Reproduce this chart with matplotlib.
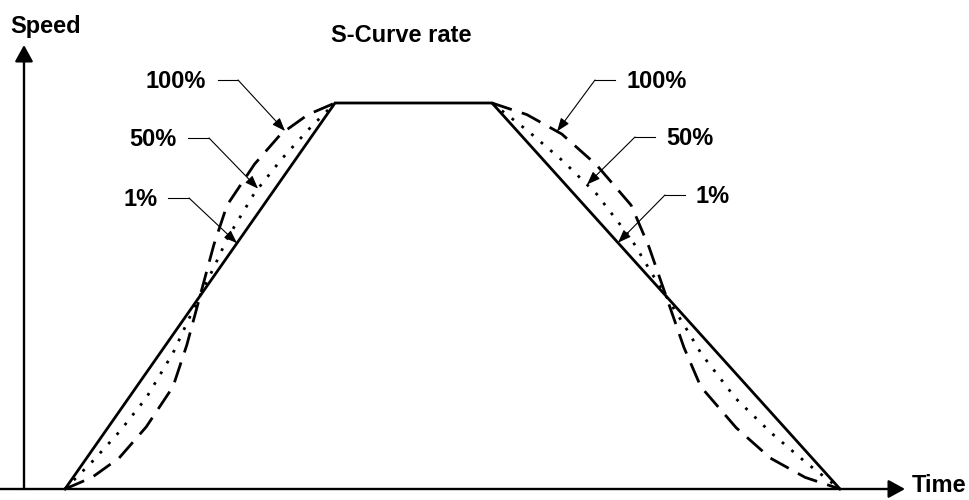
import numpy as np
import matplotlib
matplotlib.use('Agg')
import matplotlib.pyplot as plt

plt.rcParams['font.family'] = ['Liberation Sans', 'DejaVu Sans']

# ---- data (time / speed in drawing units) ----
profile_time = [65, 335, 492, 840]        # start, end of accel, start of decel, end
profile_speed = [0, 386, 386, 0]

# S-curve shapes: fraction of ramp time -> fraction of speed change
shape_u = [0, 0.1, 0.2, 0.3, 0.4, 0.45, 0.5, 0.55, 0.6, 0.7, 0.8, 0.9, 1.0]
shape_100 = [0, 0.03, 0.08, 0.16, 0.265, 0.37, 0.5, 0.63, 0.735, 0.84, 0.92, 0.97, 1.0]
shape_50 = [0, 0.07, 0.147, 0.235, 0.352, 0.428, 0.5, 0.572, 0.648, 0.765, 0.853, 0.93, 1.0]
shape_1 = [0, 0.1, 0.2, 0.3, 0.4, 0.45, 0.5, 0.55, 0.6, 0.7, 0.8, 0.9, 1.0]

labels = ['100%', '50%', '1%']
left_tip_u = [0.815, 0.715, 0.637]
right_tip_u = [0.187, 0.273, 0.362]

# ---- figure ----
fig = plt.figure(figsize=(9.7, 5.0), dpi=100)
ax = fig.add_axes([0, 0, 1, 1])
ax.set_xlim(0, 970)
ax.set_ylim(-11, 489)
ax.axis('off')

t0, t1, t2, t3 = profile_time
vmax = profile_speed[1]
ud = np.linspace(0, 1, 400)


def accel(shape, u):
    s = np.interp(u, shape_u, shape)
    return t0 + u * (t1 - t0), s * vmax


def decel(shape, u):
    s = np.interp(u, shape_u, shape)
    return t2 + u * (t3 - t2), (1 - s) * vmax


LW = 2.0
# trapezoid (1%)
ax.plot(profile_time, profile_speed, color='black', lw=LW, solid_joinstyle='miter', zorder=3)
# 100% dashed
for f in (accel, decel):
    x, y = f(shape_100, ud)
    ax.plot(x, y, color='black', lw=LW, linestyle=(0, (7.5, 3.8)), zorder=3)
# 50% dotted
for f in (accel, decel):
    x, y = f(shape_50, ud)
    ax.plot(x, y, color='black', lw=2.0, linestyle=(0, (1, 3.5)), zorder=3)

# axes with arrowheads
axis_kw = dict(arrowstyle='-|>,head_length=1.0,head_width=0.55', color='black',
               lw=1.7, mutation_scale=10, shrinkA=0, shrinkB=0)
ax.annotate('', xy=(905, 0), xytext=(0, 0), arrowprops=axis_kw)
ax.annotate('', xy=(24, 489 - 45), xytext=(24, 0), arrowprops=axis_kw)

FS = 17
ax.text(10, 489 - 33, 'Speed', fontsize=FS, fontweight='bold', ha='left', va='baseline')
ax.text(912, 489 - 492, 'Time', fontsize=FS, fontweight='bold', ha='left', va='baseline')
ax.text(401, 489 - 42, 'S-Curve rate', fontsize=FS, fontweight='bold', ha='center', va='baseline')

shapes = [shape_100, shape_50, shape_1]
# left-side labels: text right edge, label centre y (drawing rows), horizontal leader
left_text_x = [206, 177, 158]
left_text_y = [80, 138, 198]
left_leader = [(218, 238), (188, 209), (168, 189)]
right_text_x = [627, 666, 696]
right_text_y = [80, 137, 195]
right_leader = [(595, 615), (635, 655), (665, 685)]

arr_kw = dict(arrowstyle='-|>,head_length=0.8,head_width=0.3', color='black',
              lw=0.8, mutation_scale=10, shrinkA=0, shrinkB=0)
cap = 0.716 * FS * 100 / 72

for lab, sh, u, tx, ty, (la, lb) in zip(labels, shapes, left_tip_u, left_text_x,
                                         left_text_y, left_leader):
    ax.text(tx, 489 - ty - cap / 2, lab, fontsize=FS, fontweight='bold', ha='right', va='baseline')
    ax.plot([la, lb], [489 - ty, 489 - ty], color='black', lw=0.8)
    x, y = accel(sh, np.array([u]))
    ax.annotate('', xy=(x[0], y[0]), xytext=(lb, 489 - ty), arrowprops=arr_kw)

for lab, sh, u, tx, ty, (la, lb) in zip(labels, shapes, right_tip_u, right_text_x,
                                         right_text_y, right_leader):
    ax.text(tx, 489 - ty - cap / 2, lab, fontsize=FS, fontweight='bold', ha='left', va='baseline')
    ax.plot([la, lb], [489 - ty, 489 - ty], color='black', lw=0.8)
    x, y = decel(sh, np.array([u]))
    ax.annotate('', xy=(x[0], y[0]), xytext=(la, 489 - ty), arrowprops=arr_kw)

fig.savefig('out.png', dpi=100)
